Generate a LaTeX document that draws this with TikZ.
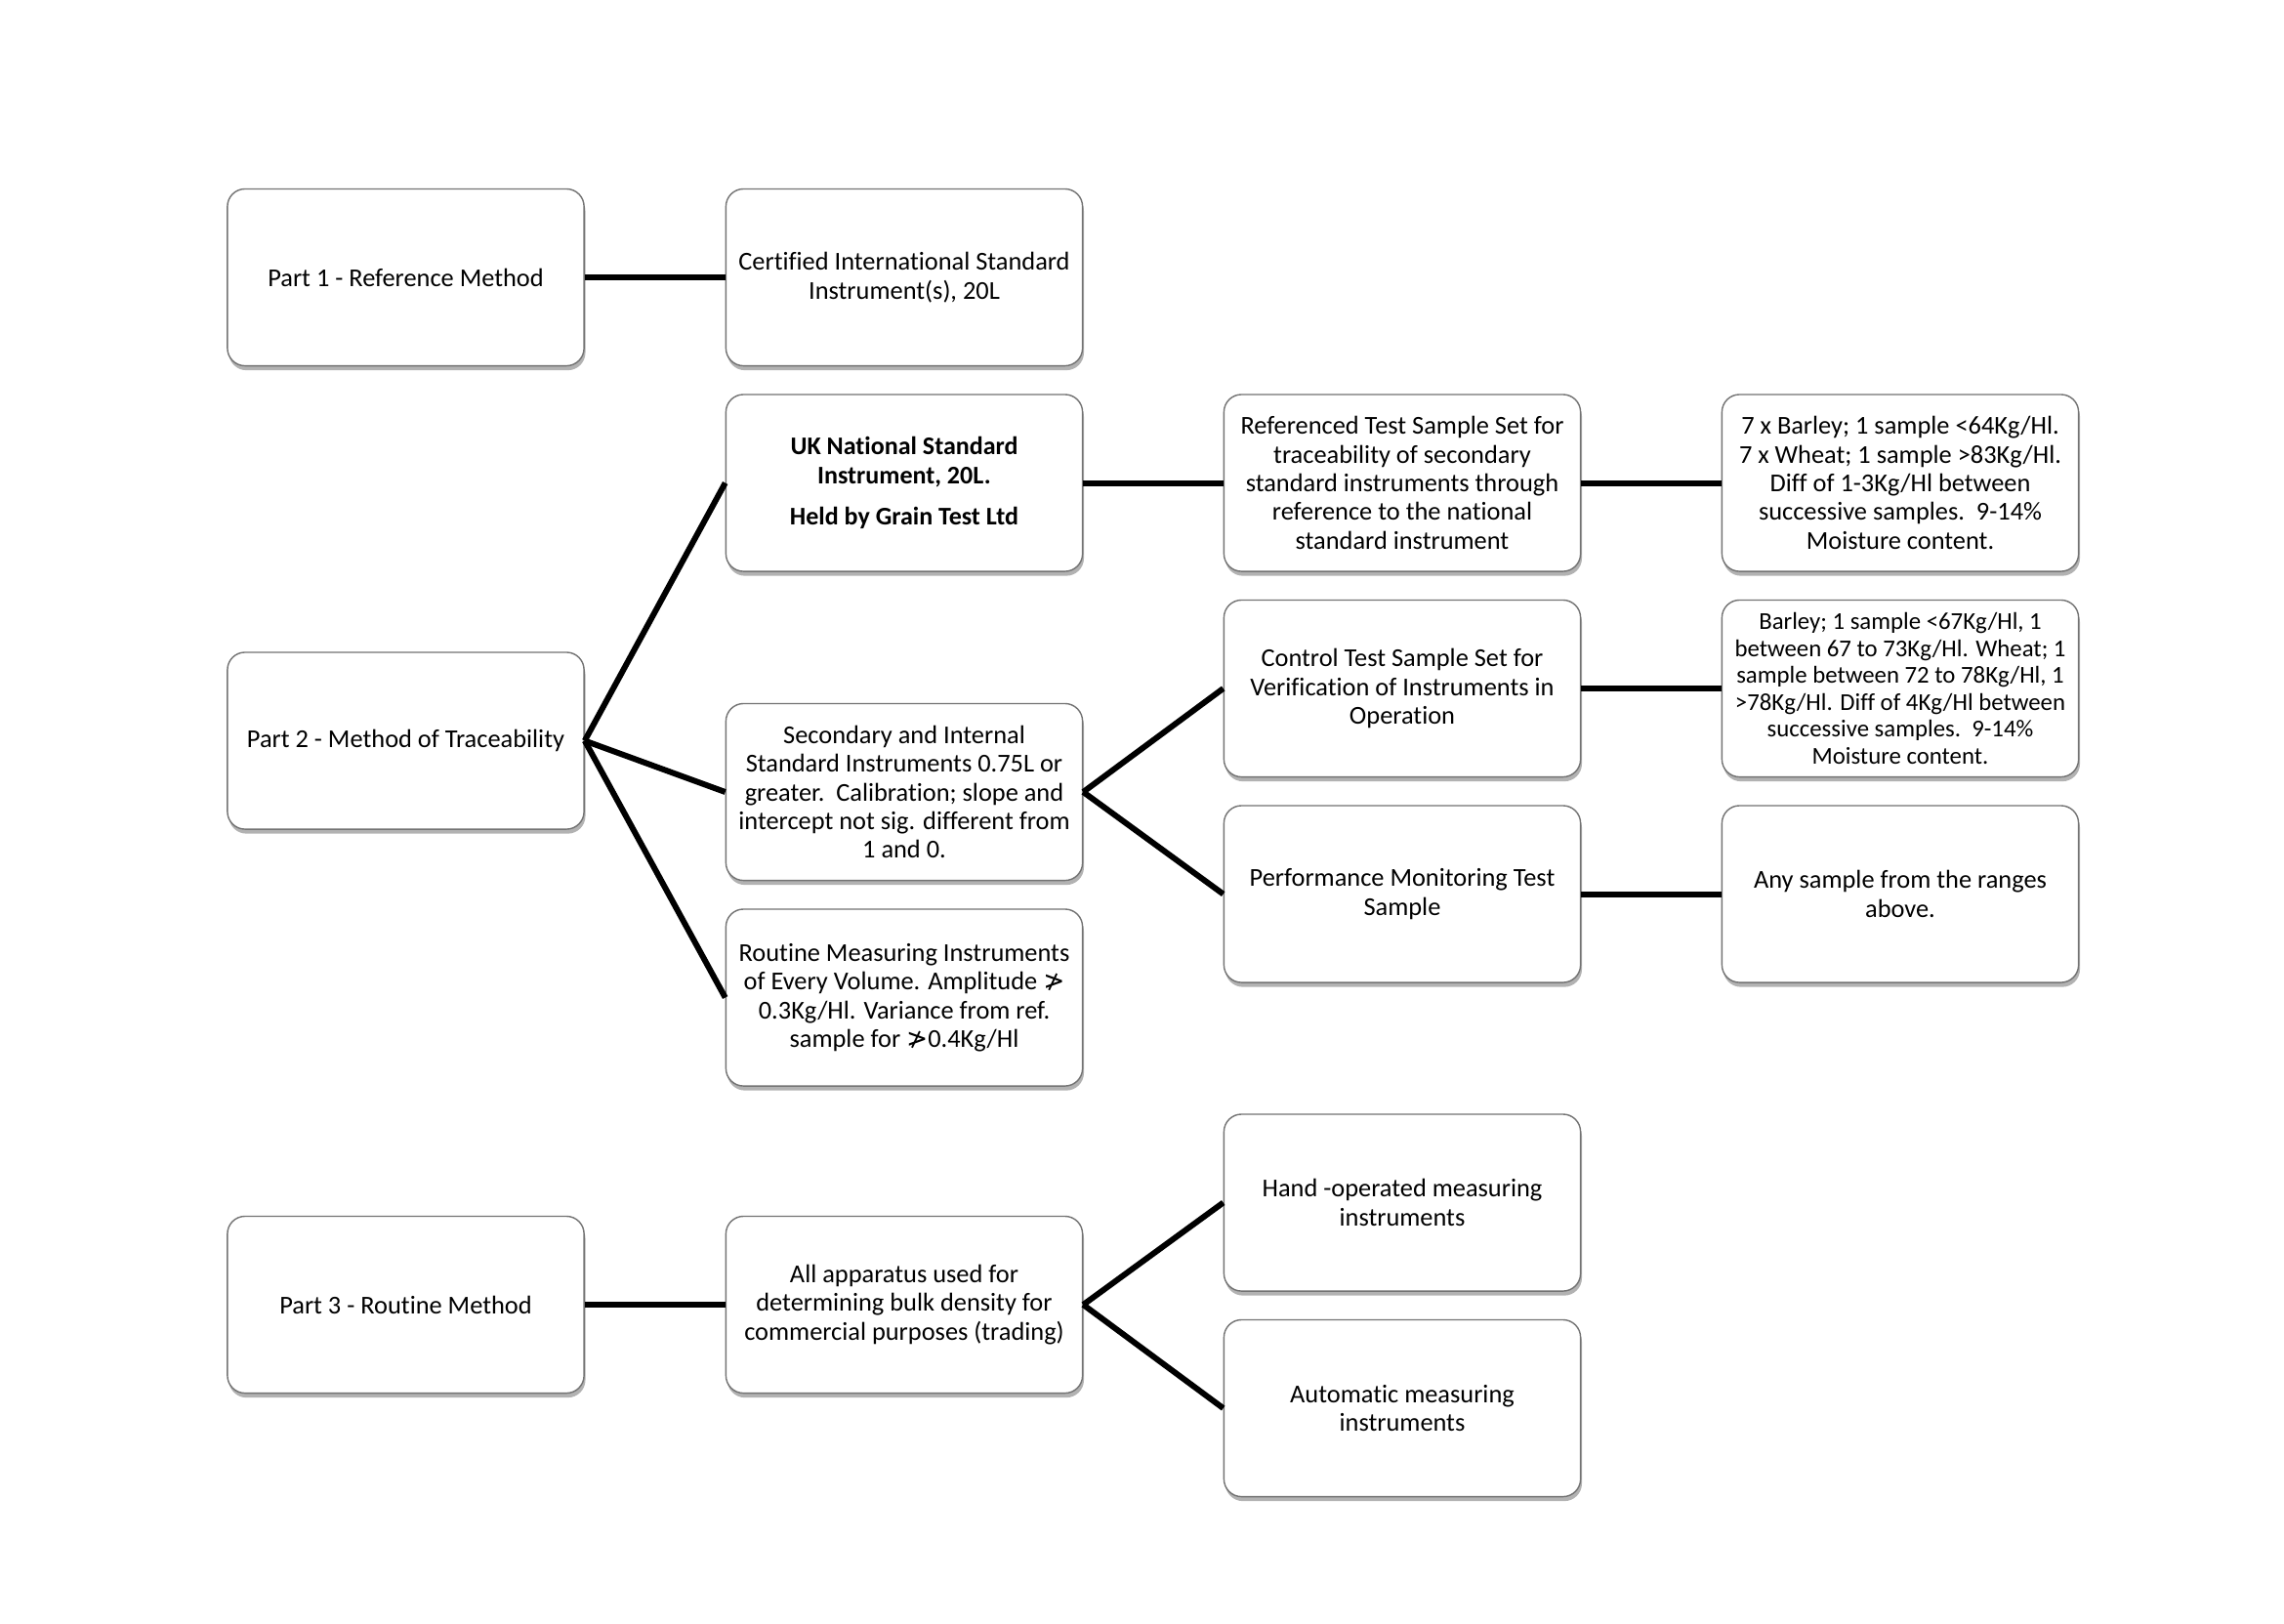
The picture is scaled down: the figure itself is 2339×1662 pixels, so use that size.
\documentclass[tikz,border=0pt]{standalone}
\usepackage{fontspec}
\setmainfont{Carlito}[Ligatures={NoCommon}]
\newfontfamily\symfont{DejaVu Sans}
\usetikzlibrary{shadows}
\newcommand{\ngt}{{\symfont\char"226F}}
\tikzset{
  box/.style={draw=black!55, line width=0.4pt, fill=white, rounded corners=0.18cm,
    minimum width=3.65cm, minimum height=1.81cm, align=center, inner sep=1pt,
    font=\fontsize{7.5}{8.35}\selectfont,
    drop shadow={shadow xshift=0.4pt, shadow yshift=-1.3pt, fill=black, opacity=0.3}},
  conn/.style={line width=1.7pt, black}
}
\begin{document}
\begin{tikzpicture}[x=0.01cm, y=-0.01cm]
\useasboundingbox (0,0) rectangle (2339,1662);
\fill[white] (0,0) rectangle (2339,1662);
% column 1
\node[box] (p1) at (415.5,284) {Part 1 - Reference Method};
\node[box] (p2) at (415.5,758.5) {Part 2 - Method of Traceability};
\node[box] (p3) at (415.5,1336) {Part 3 - Routine Method};
% column 2
\node[box] (cert) at (926,284) {Certified International Standard\\Instrument(s), 20L};
\node[box, font=\fontsize{7.4}{8.4}\selectfont\bfseries] (uk) at (926,494.5) {UK National Standard\\Instrument, 20L.\\[3.6pt]Held by Grain Test Ltd};
\node[box] (sec) at (926,811) {Secondary and Internal\\Standard Instruments 0.75L or\\greater.\ \ Calibration; slope and\\intercept not sig. different from\\1 and 0.};
\node[box] (rout) at (926,1021.5) {Routine Measuring Instruments\\of Every Volume. Amplitude \ngt\\0.3Kg/Hl. Variance from ref.\\sample for \ngt0.4Kg/Hl};
\node[box] (app) at (926,1336) {All apparatus used for\\determining bulk density for\\commercial purposes (trading)};
% column 3
\node[box] (ref) at (1436,494.5) {Referenced Test Sample Set for\\traceability of secondary\\standard instruments through\\reference to the national\\standard instrument};
\node[box] (ctrl) at (1436,705) {Control Test Sample Set for\\Verification of Instruments in\\Operation};
\node[box] (perf) at (1436,915.5) {Performance Monitoring Test\\Sample};
\node[box] (hand) at (1436,1231.5) {Hand -operated measuring\\instruments};
\node[box] (auto) at (1436,1442) {Automatic measuring\\instruments};
% column 4
\node[box] (bw) at (1946,494.5) {7 x Barley; 1 sample <64Kg/Hl.\\7 x Wheat; 1 sample >83Kg/Hl.\\Diff of 1-3Kg/Hl between\\successive samples.\ \ 9-14\%\\Moisture content.};
\node[box, font=\fontsize{7.05}{7.85}\selectfont] (bar) at (1946,705) {Barley; 1 sample <67Kg/Hl, 1\\between 67 to 73Kg/Hl. Wheat; 1\\sample between 72 to 78Kg/Hl, 1\\>78Kg/Hl. Diff of 4Kg/Hl between\\successive samples.\ \ 9-14\%\\Moisture content.};
\node[box] (any) at (1946,915.5) {Any sample from the ranges\\above.};
% connectors
\draw[conn] (p1.east) -- (cert.west);
\draw[conn] (p2.east) -- (uk.west);
\draw[conn] (p2.east) -- (sec.west);
\draw[conn] (p2.east) -- (rout.west);
\draw[conn] (uk.east) -- (ref.west);
\draw[conn] (ref.east) -- (bw.west);
\draw[conn] (sec.east) -- (ctrl.west);
\draw[conn] (sec.east) -- (perf.west);
\draw[conn] (ctrl.east) -- (bar.west);
\draw[conn] (perf.east) -- (any.west);
\draw[conn] (p3.east) -- (app.west);
\draw[conn] (app.east) -- (hand.west);
\draw[conn] (app.east) -- (auto.west);
\end{tikzpicture}
\end{document}
